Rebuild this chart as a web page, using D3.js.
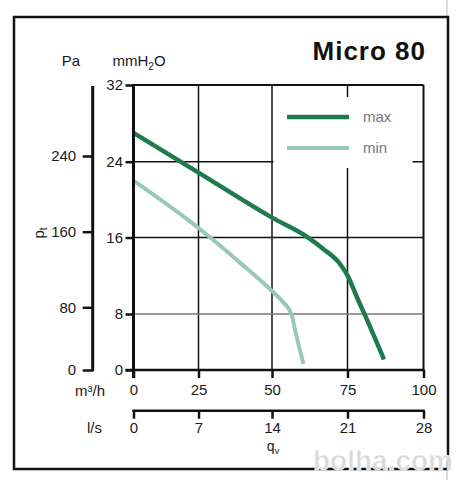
<!DOCTYPE html>
<html>
<head>
<meta charset="utf-8">
<script src="https://cdn.jsdelivr.net/npm/d3@7"></script>
<style>
  body { margin: 0; background: #fff; }
  svg { display: block; font-family: 'Liberation Sans', Arial, sans-serif; }
</style>
</head>
<body>
<svg id="chart" width="456" height="480"></svg>
<script>
// curve readings: airflow in m3/h, total pressure in mmH2O
const flowMax = [0, 25, 50, 61.5, 67, 72.6, 75.3, 78.1, 81.4, 87]
const pressMax = [27, 22.85, 18.1, 16.1, 14.8, 13.2, 11.85, 9.75, 7.2, 1.5]
const flowMin = [0, 25, 39, 50, 53.8, 56.5, 57.6, 60.4]
const pressMin = [22, 17, 13.4, 10.4, 9.2, 7.9, 5.8, 0.85]

const m3hTicks = [0, 25, 50, 75, 100]
const lsTicks = [0, 7, 14, 21, 28]
const mmTicks = [0, 8, 16, 24, 32]
const paTicks = [0, 80, 160, 240]

const seriesNames = ['max', 'min']
const seriesColors = ['#1f7b4e', '#98c8b8']

const svg = d3.select('#chart')

// the scanned chart is slightly uneven, so the scales are piecewise
const xRange = [133.5, 198.5, 272, 347.5, 423.5]
const x = d3.scaleLinear().domain(m3hTicks).range(xRange)
const xLs = d3.scaleLinear().domain(lsTicks).range(xRange)
const y = d3.scaleLinear().domain(mmTicks).range([370, 314, 237.5, 161.7, 85])
const yPa = d3.scaleLinear().domain(paTicks).range([370, 307.3, 231.7, 156])

// page edge and frame
svg.append('line')
  .attr('x1', 447).attr('x2', 447).attr('y1', 0).attr('y2', 480)
  .attr('stroke', '#bbb').attr('stroke-width', 1)
svg.append('rect')
  .attr('x', 14).attr('y', 17).attr('width', 434).attr('height', 452)
  .attr('fill', '#fff').attr('stroke', '#111').attr('stroke-width', 2.5)

// grid
const grid = svg.append('g')
grid.selectAll('.vgrid')
  .data(m3hTicks.slice(1))
  .enter()
  .append('line')
  .attr('class', 'vgrid')
  .attr('x1', (d) => x(d)).attr('x2', (d) => x(d))
  .attr('y1', y(32)).attr('y2', y(0))
  .attr('stroke', '#111').attr('stroke-width', (d) => (d === 100 ? 2 : 1.5))
grid.selectAll('.hgrid')
  .data(mmTicks.slice(1))
  .enter()
  .append('line')
  .attr('class', 'hgrid')
  .attr('x1', x(0)).attr('x2', x(100))
  .attr('y1', (d) => y(d)).attr('y2', (d) => y(d))
  .attr('stroke', (d) => (d === 8 ? '#777' : '#111'))
  .attr('stroke-width', (d) => (d === 32 ? 2 : 1.5))

// legend background covers part of the grid
svg.append('rect')
  .attr('x', 273.5).attr('y', 97).attr('width', 139).attr('height', 71)
  .attr('fill', '#fff')

// curves
const line = d3.line()
  .x((d) => x(d[0]))
  .y((d) => y(d[1]))
  .curve(d3.curveMonotoneX)

const curves = [
  d3.zip(flowMax, pressMax),
  d3.zip(flowMin, pressMin),
]
svg.selectAll('.curve')
  .data(curves)
  .enter()
  .append('path')
  .attr('class', 'curve')
  .attr('d', line)
  .attr('fill', 'none')
  .attr('stroke', (d, i) => seriesColors[i])
  .attr('stroke-width', (d, i) => (i === 0 ? 4.5 : 4))

// axes
const styleAxis = (g) => {
  g.select('.domain').remove()
  g.selectAll('.tick line').attr('stroke', '#111').attr('stroke-width', 2.5)
  g.selectAll('.tick text')
    .attr('fill', '#1a1a1a')
    .style('font-size', '15px')
    .style('font-family', 'Liberation Sans, Arial, sans-serif')
}

svg.append('g')
  .attr('transform', `translate(${x(0)},0)`)
  .call(d3.axisLeft(y).tickValues(mmTicks).tickSize(8).tickPadding(2.5))
  .call(styleAxis)

svg.append('g')
  .attr('transform', 'translate(92.7,0)')
  .call(d3.axisLeft(yPa).tickValues(paTicks).tickSize(10).tickPadding(6.5))
  .call(styleAxis)

svg.append('g')
  .attr('transform', `translate(0,${y(0)})`)
  .call(d3.axisBottom(x).tickValues(m3hTicks).tickSize(8).tickPadding(6.5))
  .call(styleAxis)

svg.append('g')
  .attr('transform', 'translate(0,410.7)')
  .call(d3.axisBottom(xLs).tickValues(lsTicks).tickSize(8).tickPadding(4))
  .call(styleAxis)

// axis lines
const axisLines = [
  [x(0), y(32) - 1, x(0), y(0) + 8, 3],
  [92.7, y(32) + 1, 92.7, yPa(0) + 1.2, 3],
  [x(0) - 8, y(0), x(100) + 1, y(0), 2.5],
  [x(0) - 1.2, 410.7, x(100) + 1.2, 410.7, 2.5],
]
svg.selectAll('.axisline')
  .data(axisLines)
  .enter()
  .append('line')
  .attr('class', 'axisline')
  .attr('x1', (d) => d[0]).attr('y1', (d) => d[1])
  .attr('x2', (d) => d[2]).attr('y2', (d) => d[3])
  .attr('stroke', '#111')
  .attr('stroke-width', (d) => d[4])

// legend
const legend = svg.append('g')
  .selectAll('g')
  .data(seriesNames)
  .enter()
  .append('g')
  .attr('transform', (d, i) => `translate(287,${117 + i * 31})`)
legend.append('line')
  .attr('x1', 0).attr('x2', 62)
  .attr('stroke', (d, i) => seriesColors[i])
  .attr('stroke-width', (d, i) => (i === 0 ? 4.5 : 4))
legend.append('text')
  .attr('x', 76).attr('dy', '0.35em')
  .attr('fill', '#777')
  .style('font-size', '15px')
  .text((d) => d)

// titles and units
svg.append('text')
  .attr('x', 426).attr('y', 60)
  .attr('text-anchor', 'end')
  .attr('fill', '#111')
  .style('font-size', '26px').style('font-weight', 'bold')
  .style('letter-spacing', '1px')
  .text('Micro 80')

const label = (xPos, yPos, anchor) => svg.append('text')
  .attr('x', xPos).attr('y', yPos)
  .attr('text-anchor', anchor)
  .attr('fill', '#1a1a1a')
  .style('font-size', '15px')

label(71, 66, 'middle').text('Pa')
const mm = label(112.5, 66, 'start').text('mmH')
mm.append('tspan').attr('dy', 3.5).style('font-size', '10px').text('2')
mm.append('tspan').attr('dy', -3.5).text('O')

label(105, 396, 'end').text('m³/h')
label(102, 433, 'end').text('l/s')

const qv = label(273, 451, 'middle').style('font-size', '14px').text('q')
qv.append('tspan').attr('dy', 2.5).style('font-size', '9px').text('v')

const pt = label(0, 0, 'middle').attr('transform', 'translate(44,233) rotate(-90)')
pt.text('p')
pt.append('tspan').attr('dy', 3).style('font-size', '10px').text('t')

// watermark
svg.append('text')
  .attr('x', 453).attr('y', 470)
  .attr('text-anchor', 'end')
  .attr('fill', '#d9d9d9')
  .attr('stroke', '#fff').attr('stroke-width', 0.6)
  .style('font-size', '28px').style('font-weight', 'bold')
  .text('bolha.com')
</script>
</body>
</html>
